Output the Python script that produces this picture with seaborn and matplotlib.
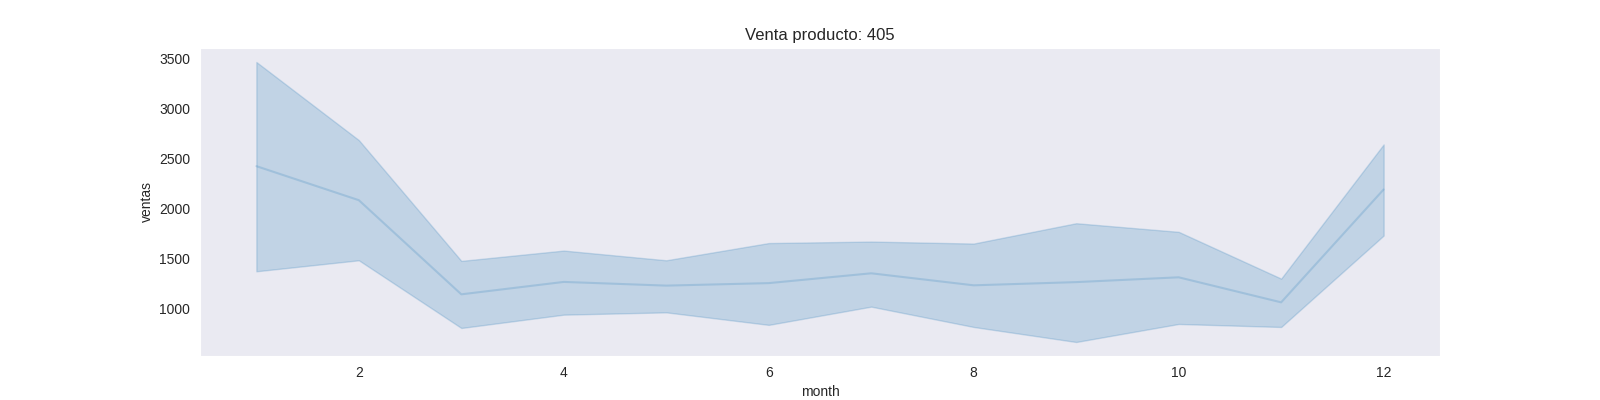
import numpy as np
import pandas as pd
import seaborn as sns
from matplotlib import pyplot as plt

# ventas mensuales del producto 405
meses = [1, 2, 3, 4, 5, 6, 7, 8, 9, 10, 11, 12]
ventas_media = [2423, 2083, 1143, 1267, 1230, 1255, 1353, 1233, 1265, 1313, 1063, 2190]
ventas_min = [1373, 1483, 807, 940, 963, 838, 1020, 817, 667, 847, 817, 1730]
ventas_max = [3463, 2683, 1477, 1580, 1483, 1655, 1670, 1650, 1853, 1767, 1300, 2640]


def build_frame():
    # tres registros por mes: minimo, maximo y uno que deja la media leida
    rows = []
    for m, mean, lo, hi in zip(meses, ventas_media, ventas_min, ventas_max):
        mid = 3 * mean - lo - hi
        for v in (lo, mid, hi):
            rows.append({"month": m, "ventas": v})
    return pd.DataFrame(rows)


def main():
    sns.set_style("dark")
    plt.rcParams["font.family"] = ["Liberation Sans", "DejaVu Sans"]

    df = build_frame()
    fig, ax = plt.subplots(figsize=(16, 4), dpi=100)
    sns.lineplot(data=df, x="month", y="ventas", errorbar=("pi", 100),
                 alpha=0.2, ax=ax)
    ax.set_title("Venta producto: 405")
    fig.savefig("out.png", dpi=100)


if __name__ == "__main__":
    main()
